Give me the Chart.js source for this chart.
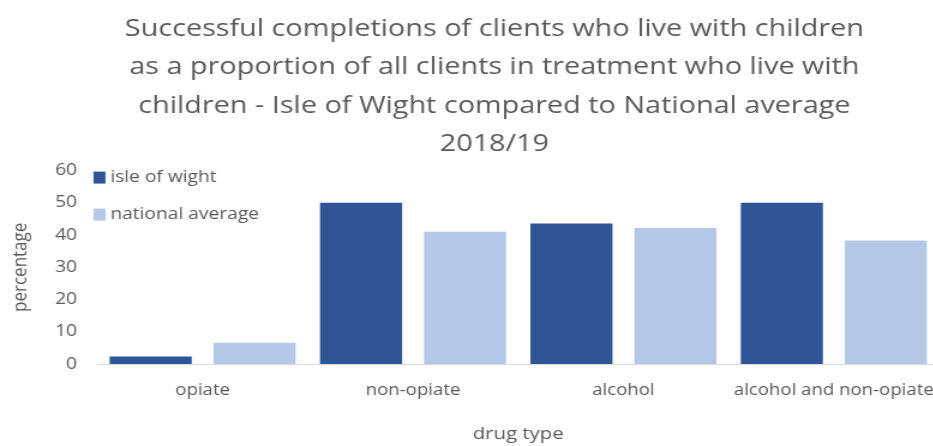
<!DOCTYPE html>
<html>
<head>
<meta charset="utf-8">
<script src="https://cdn.jsdelivr.net/npm/chart.js@4/dist/chart.umd.min.js"></script>
<style>
  html, body { margin: 0; padding: 0; background: #fff; overflow: hidden; }
  #wrap { width: 933px; height: 446px; overflow: hidden; position: relative; }
  /* the original picture is stretched sideways, so stretch ours the same */
  #box { width: 822px; height: 446px; position: absolute; left: 0; top: 0; transform: scaleX(1.2); transform-origin: 0 0; }
</style>
</head>
<body>
<div id="wrap"><div id="box"><canvas id="chart"></canvas></div></div>
<script>
var categories = ['opiate', 'non-opiate', 'alcohol', 'alcohol and non-opiate'];
var isleOfWight = [2.3, 50, 43.6, 50];
var nationalAverage = [6.6, 41, 42.2, 38.3];
var titleLines = [
  'Successful completions of clients who live with children',
  'as a proportion of all clients in treatment who live with',
  'children - Isle of Wight compared to National average',
  '2018/19'
];

var grey = '#595959';
var fontFamily = "'Open Sans', sans-serif";

// legend sits inside the plot, top left, like the excel original
var insideLegend = {
  id: 'insideLegend',
  afterDraw: function(chart) {
    var ctx = chart.ctx;
    var area = chart.chartArea;
    var x = area.left - 3.3;
    var y = area.top + 1;
    ctx.save();
    ctx.font = '16px ' + fontFamily;
    ctx.textBaseline = 'middle';
    ctx.textAlign = 'left';
    chart.data.datasets.forEach(function(ds, i) {
      var yy = y + i * 37;
      ctx.fillStyle = ds.backgroundColor;
      ctx.fillRect(x, yy, 10, 12);
      ctx.fillStyle = grey;
      ctx.fillText(ds.label, x + 14, yy + 6);
    });
    ctx.restore();
  }
};

var ctx = document.getElementById('chart');
var chart = new Chart(ctx, {
  type: 'bar',
  data: {
    labels: categories,
    datasets: [
      { label: 'isle of wight', data: isleOfWight, backgroundColor: '#2F5597' },
      { label: 'national average', data: nationalAverage, backgroundColor: '#B4C7E7' }
    ]
  },
  options: {
    responsive: true,
    maintainAspectRatio: false,
    animation: false,
    layout: { padding: { left: 2, right: 0, top: 10, bottom: 2 } },
    datasets: { bar: { categoryPercentage: 0.988, barPercentage: 0.79 } },
    plugins: {
      legend: { display: false },
      tooltip: { enabled: false },
      title: {
        display: true,
        text: titleLines,
        color: grey,
        font: { family: fontFamily, size: 24, weight: 'normal', lineHeight: 1.6 },
        padding: { top: 0, bottom: 7 }
      }
    },
    scales: {
      x: {
        grid: { display: false },
        border: { display: true, color: '#d9d9d9', width: 1 },
        ticks: { color: grey, font: { family: fontFamily, size: 15.5 }, padding: 9, maxRotation: 0, autoSkip: false },
        title: { display: true, text: 'drug type', color: grey, font: { family: fontFamily, size: 17 }, padding: { top: 15, bottom: 0 } }
      },
      y: {
        min: 0,
        max: 60,
        grid: { display: false, drawTicks: false },
        border: { display: false },
        ticks: { stepSize: 10, color: grey, font: { family: fontFamily, size: 16 }, padding: 17 },
        title: { display: true, text: 'percentage', color: grey, font: { family: fontFamily, size: 17 }, padding: { top: 4.5, bottom: 2 } }
      },
      // empty spacer on the right: the plot runs past the cropped edge
      yRight: {
        type: 'linear',
        position: 'right',
        grid: { display: false },
        border: { display: false },
        ticks: { display: false },
        afterFit: function(scale) { scale.width = 39.5; }
      }
    }
  },
  plugins: [insideLegend]
});
</script>
</body>
</html>
